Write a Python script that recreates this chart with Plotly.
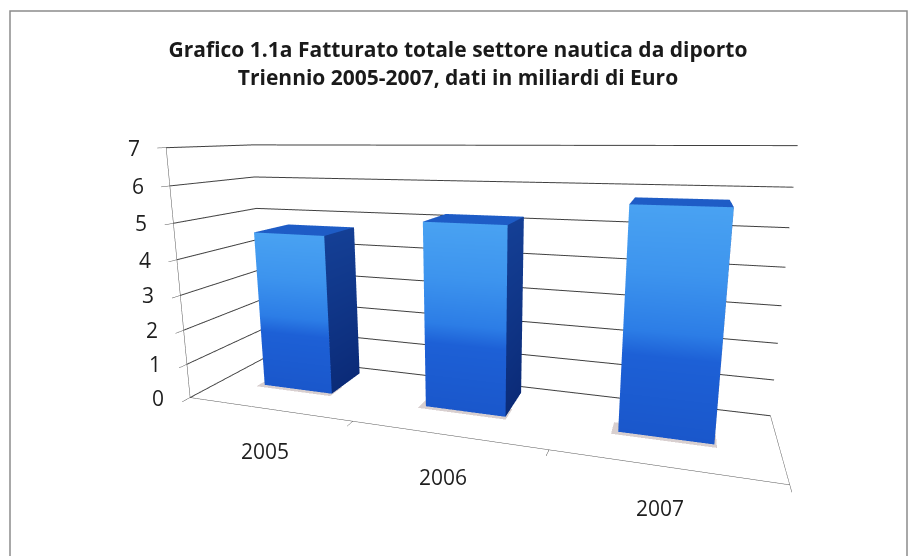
import plotly.graph_objects as go

# ---- data ----
years = ["2005", "2006", "2007"]
values = [4.6, 5.1, 5.7]          # miliardi di Euro
z_ticks = [0, 1, 2, 3, 4, 5, 6, 7]

title_text = ("<b>Grafico 1.1a Fatturato totale settore nautica da diporto<br>"
              "Triennio 2005-2007, dati in miliardi di Euro</b>")

# ---- layout / style ----
W, H = 916, 556
XR, YR, ZR = [-0.5, 2.5], [0.0, 1.0], [0.0, 7.0]
bar_w, y0, y1 = 0.437, 0.402, 0.872

front_stops = [(0.00, "#1a57cb"), (0.36, "#1d60d6"), (0.47, "#2c7de6"),
               (0.72, "#3d94ee"), (1.00, "#49a2f2")]
side_bot, side_top = "#0b2b78", "#143f95"
top_col = "#1e5cc6"

X, Y, Z, I, J, K, C = [], [], [], [], [], [], []
SX, SY, SZ, SI, SJ, SK = [], [], [], [], [], []


def add_quad(pts, cols):
    n = len(X)
    for (px, py, pz), c in zip(pts, cols):
        X.append(px); Y.append(py); Z.append(pz); C.append(c)
    I.extend([n, n]); J.extend([n + 1, n + 2]); K.extend([n + 2, n + 3])


for idx, v in enumerate(values):
    x0, x1 = idx - bar_w / 2, idx + bar_w / 2
    # front face with vertical gradient
    for (fa, ca), (fb, cb) in zip(front_stops[:-1], front_stops[1:]):
        za, zb = v * fa, v * fb
        add_quad([(x0, y0, za), (x1, y0, za), (x1, y0, zb), (x0, y0, zb)], [ca, ca, cb, cb])
    # right side face
    add_quad([(x1, y0, 0), (x1, y1, 0), (x1, y1, v), (x1, y0, v)],
             [side_bot, side_bot, side_top, side_top])
    # top face
    add_quad([(x0, y0, v), (x1, y0, v), (x1, y1, v), (x0, y1, v)], [top_col] * 4)
    # soft floor shadow just in front of / left of the bar foot
    n = len(SX)
    d = y1 - y0
    for px, py in [(x0 - 0.03, y0 - 0.05), (x1 + 0.01, y0 - 0.05),
                   (x1 + 0.01, y0 + 0.3 * d), (x0 - 0.03, y0 + 0.3 * d)]:
        SX.append(px); SY.append(py); SZ.append(0.01)
    SI.extend([n, n]); SJ.extend([n + 1, n + 2]); SK.extend([n + 2, n + 3])

flat = dict(ambient=1.0, diffuse=0.0, specular=0.0, roughness=1.0, fresnel=0.0)

fig = go.Figure()
fig.add_trace(go.Mesh3d(x=SX, y=SY, z=SZ, i=SI, j=SJ, k=SK, color="#a99595", opacity=0.45,
                        lighting=flat, hoverinfo="skip", showscale=False))
fig.add_trace(go.Mesh3d(x=X, y=Y, z=Z, i=I, j=J, k=K, vertexcolor=C, flatshading=True,
                        lighting=flat, hoverinfo="skip", showscale=False))

axis_common = dict(showbackground=False, showspikes=False, zeroline=False,
                   title=dict(text=""), linecolor="#555555", linewidth=1)
lab_font = dict(size=21, color="#1e1e1e", family="'Open Sans', sans-serif")

fig.update_layout(
    width=W, height=H, showlegend=False,
    margin=dict(l=0, r=0, t=0, b=0),
    paper_bgcolor="white",
    font=dict(family="'Open Sans', sans-serif", color="#222222"),
    title=dict(text=title_text, x=0.5, xanchor="center", y=0.897, yanchor="middle",
               font=dict(size=21, color="#1a1a1a")),
    scene=dict(
        domain=dict(x=[0.0, 1.0], y=[0.0, 1.0]),
        aspectmode="manual",
        aspectratio=dict(x=2.2165, y=0.5337, z=1.0),
        xaxis=dict(axis_common, range=XR, tickvals=[-0.5, 0.5, 1.5, 2.5], showticklabels=False,
                   showgrid=False, showline=True, ticks="outside", ticklen=6, tickcolor="#555555"),
        yaxis=dict(axis_common, range=YR, showgrid=False, showline=True,
                   showticklabels=False, ticks=""),
        zaxis=dict(axis_common, range=ZR, tickvals=z_ticks, showgrid=True, showticklabels=False,
                   gridcolor="#3f3f3f", gridwidth=2, showline=True, ticks="outside",
                   ticklen=5, tickcolor="#555555"),
        camera=dict(eye=dict(x=0.7555, y=-2.3478, z=0.5523),
                    center=dict(x=-0.0269, y=-0.0475, z=0.0234),
                    up=dict(x=-0.0056, y=0.0325, z=1.0),
                    projection=dict(type="perspective")),
        dragmode=False,
        annotations=[dict(x=XR[0], y=YR[0], z=t, text=str(t), showarrow=False, xanchor="right",
                          xshift=-24, font=lab_font) for t in z_ticks]
                    + [dict(x=i, y=YR[0], z=0, text=yr, showarrow=False, yshift=-42,
                            xshift=-3, font=lab_font) for i, yr in enumerate(years)],
    ),
    shapes=[dict(type="rect", xref="paper", yref="paper", x0=10 / W, x1=907 / W,
                 y0=-0.05, y1=1 - 11 / H, line=dict(color="#8c8c8c", width=1.5))],
)

fig.write_html("out.html", config={"displayModeBar": False},
               post_script="document.body.style.margin='0px';")
